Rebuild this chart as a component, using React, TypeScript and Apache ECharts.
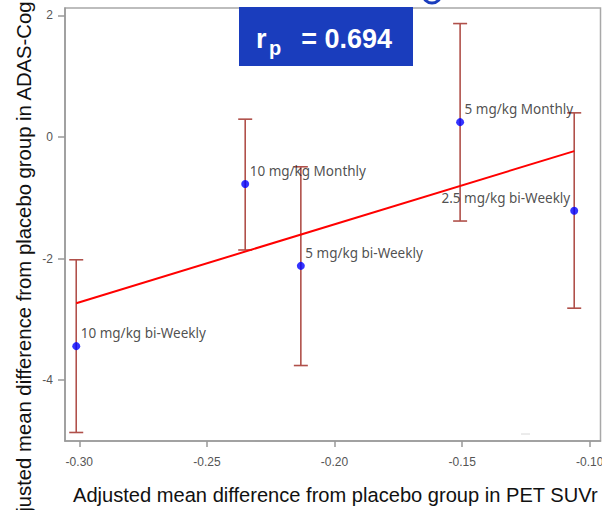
import React, { useEffect, useRef } from "react";
import * as echarts from "echarts";

const doseLabels = [
  "10 mg/kg bi-Weekly",
  "10 mg/kg Monthly",
  "5 mg/kg bi-Weekly",
  "5 mg/kg Monthly",
  "2.5 mg/kg bi-Weekly",
];
const suvrDiff = [-0.3012, -0.235, -0.2132, -0.1508, -0.1061];
const adasDiff = [-3.44, -0.775, -2.12, 0.243, -1.213];
const errUpper = [-2.02, 0.292, -0.491, 1.864, 0.396];
const errLower = [-4.86, -1.859, -3.759, -1.383, -2.816];
const fitX = [-0.3012, -0.1061];
const fitY = [-2.734, -0.233];
const xTicks = [-0.3, -0.25, -0.2, -0.15, -0.1];
const yTicks = [-4, -2, 0, 2];
const corrText = "= 0.694";

const ERR_COLOR = "#b0504a";

export default function App() {
  const ref = useRef<HTMLDivElement>(null);
  useEffect(() => {
    if (!ref.current) return;
    const chart = echarts.init(ref.current, null, { renderer: "svg" });
    const labelFont = {
      fontFamily: "Noto Sans",
      fontSize: 13.5,
      color: "#222",
    };
    const scatterData = suvrDiff.map((x, i) => {
      const isRight = i === 4;
      return {
        value: [x, adasDiff[i]],
        name: doseLabels[i],
        label: isRight
          ? { position: [0, -8.5], align: "right", verticalAlign: "middle" }
          : { position: [8.5, -9], align: "left", verticalAlign: "middle" },
      };
    });
    const option: any = {
      animation: false,
      grid: {
        left: 65,
        right: 1.5,
        top: 8,
        bottom: 69,
        show: true,
        borderColor: "#a8a8a8",
        borderWidth: 1.5,
        containLabel: false,
        outerBoundsMode: "none",
      },
      xAxis: {
        type: "value",
        min: -0.3056,
        max: -0.0958,
        splitLine: { show: false },
        axisLine: { show: true, onZero: false, lineStyle: { color: "#999", width: 1.5 } },
        axisTick: {
          show: true,
          length: 6,
          customValues: xTicks,
          lineStyle: { color: "#999", width: 1.5 },
        },
        axisLabel: {
          customValues: xTicks,
          formatter: (v: number) => v.toFixed(2),
          margin: 15,
          color: "#555",
          fontSize: 12,
          fontFamily: "Liberation Sans",
        },
      },
      yAxis: {
        type: "value",
        min: -5,
        max: 2.12,
        splitLine: { show: false },
        axisLine: { show: true, onZero: false, lineStyle: { color: "#999", width: 1.5 } },
        axisTick: {
          show: true,
          length: 7,
          customValues: yTicks,
          lineStyle: { color: "#999", width: 1.5 },
        },
        axisLabel: {
          customValues: yTicks,
          formatter: (v: number) => String(v),
          margin: 12,
          color: "#555",
          fontSize: 12,
          fontFamily: "Liberation Sans",
        },
      },
      series: [
        {
          type: "custom",
          z: 1,
          data: suvrDiff.map((x, i) => [x, errUpper[i], errLower[i]]),
          encode: { x: 0, y: [1, 2] },
          renderItem: (params: any, api: any) => {
            const x = api.value(0);
            const top = api.coord([x, api.value(1)]);
            const bot = api.coord([x, api.value(2)]);
            const w = 7;
            const style = { stroke: ERR_COLOR, lineWidth: 1.6 };
            return {
              type: "group",
              children: [
                { type: "line", shape: { x1: top[0], y1: top[1], x2: bot[0], y2: bot[1] }, style },
                { type: "line", shape: { x1: top[0] - w, y1: top[1], x2: top[0] + w, y2: top[1] }, style },
                { type: "line", shape: { x1: bot[0] - w, y1: bot[1], x2: bot[0] + w, y2: bot[1] }, style },
              ],
            };
          },
        },
        {
          type: "line",
          z: 2,
          data: fitX.map((x, i) => [x, fitY[i]]),
          symbol: "none",
          lineStyle: { color: "#ff0000", width: 2 },
        },
        {
          type: "scatter",
          z: 3,
          symbol: "circle",
          symbolSize: 8,
          itemStyle: { color: "#0000ff" },
          data: scatterData,
          label: {
            show: true,
            formatter: (p: any) => p.name,
            ...labelFont,
          },
        },
      ],
      graphic: [
        {
          type: "arc",
          shape: { cx: 432, cy: -6, r: 9, startAngle: 0, endAngle: Math.PI },
          style: { stroke: "#1a3dbd", lineWidth: 3, fill: "none" },
        },
        {
          type: "line",
          shape: { x1: 521, y1: 434, x2: 530, y2: 434 },
          style: { stroke: "#d8d8d8", lineWidth: 1 },
        },
        {
          type: "rect",
          shape: { x: 239, y: 7, width: 174, height: 59 },
          style: { fill: "#1a3dbd" },
          z: 10,
        },
        {
          type: "text",
          x: 256,
          y: 38.5,
          z: 11,
          style: {
            text: "r",
            fill: "#fff",
            font: "bold 27px 'Liberation Sans'",
            textAlign: "left",
            textVerticalAlign: "middle",
          },
        },
        {
          type: "text",
          x: 269,
          y: 47.5,
          z: 11,
          style: {
            text: "p",
            fill: "#fff",
            font: "bold 20px 'Liberation Sans'",
            textAlign: "left",
            textVerticalAlign: "middle",
          },
        },
        {
          type: "text",
          x: 392,
          y: 38.5,
          z: 11,
          style: {
            text: corrText,
            fill: "#fff",
            font: "bold 27px 'Liberation Sans'",
            textAlign: "right",
            textVerticalAlign: "middle",
          },
        },
        {
          type: "text",
          x: 335.3,
          y: 495,
          style: {
            text: "Adjusted mean difference from placebo group in PET SUVr",
            fill: "#111",
            font: "20.1px 'Liberation Sans'",
            textAlign: "center",
            textVerticalAlign: "middle",
          },
        },
        {
          type: "text",
          x: 24,
          y: 269,
          rotation: Math.PI / 2,
          style: {
            text: "Adjusted mean difference from placebo group in ADAS-Cog",
            fill: "#111",
            font: "20.3px 'Liberation Sans'",
            textAlign: "center",
            textVerticalAlign: "middle",
          },
        },
      ],
    };
    chart.setOption(option);
    return () => chart.dispose();
  }, []);
  return (
    <div
      ref={ref}
      style={{ position: "fixed", left: 0, top: 0, width: 602, height: 510, background: "#fff" }}
    />
  );
}
